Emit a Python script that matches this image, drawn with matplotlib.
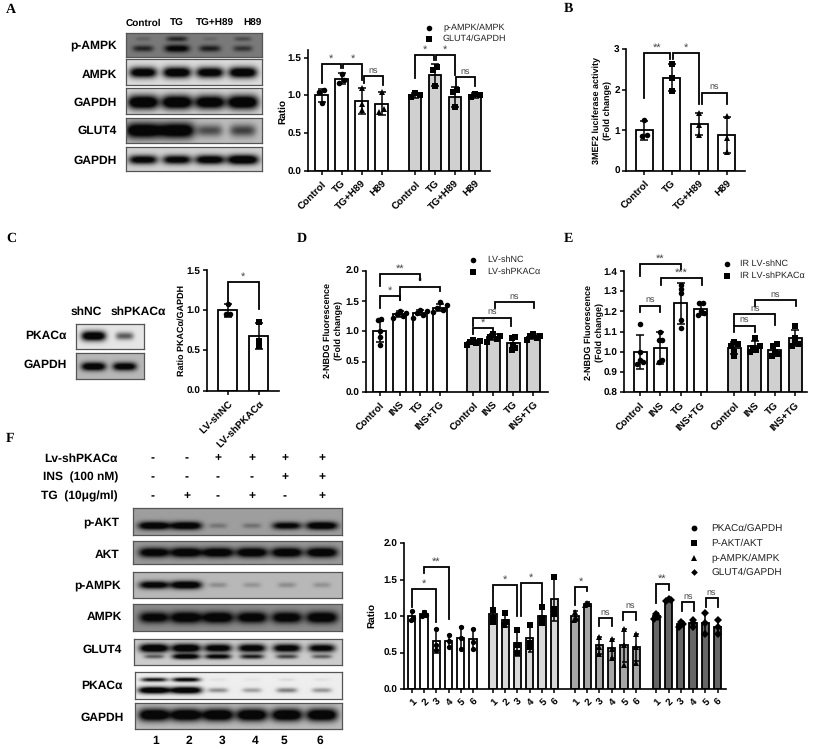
import numpy as np
import matplotlib
matplotlib.use("Agg")
import matplotlib.pyplot as plt

plt.rcParams["font.family"] = ["Liberation Sans", "DejaVu Sans"]
plt.rcParams["text.hinting"] = "no_hinting"
plt.rcParams["text.hinting_factor"] = 1

W, H = 815, 749

# ---- panel A chart
A_LABELS = ["Control", "TG", "TG+H89", "H89"] * 2
A_MEANS = [1.0, 1.22, 0.93, 0.89, 1.0, 1.27, 0.98, 1.0]
A_ERRS = [0.09, 0.07, 0.17, 0.15, 0.03, 0.14, 0.13, 0.03]
A_POINTS = [[1.07, 1.05, 0.9], [1.28, 1.2, 1.16], [1.1, 0.88, 0.81], [1.05, 0.82, 0.78],
            [1.03, 1.0, 0.98], [1.37, 1.33, 1.12], [1.07, 1.05, 0.85], [1.02, 1.0, 0.98]]
A_BRACKETS = [(0, 0.97, 1.41, 1.17, 1.36, "*"), (1.05, 2.03, 1.41, 1.36, 1.2, "*"),
              (2.1, 3.05, 1.25, 1.16, 1.14, "ns"), (4.67, 5.63, 1.53, 1.23, 1.47, "*"),
              (5.7, 6.67, 1.53, 1.47, 1.27, "*"), (6.7, 7.67, 1.24, 1.13, 1.13, "ns")]

# ---- panel B chart
B_LABELS = ["Control", "TG", "TG+H89", "H89"]
B_MEANS = [1.0, 2.3, 1.15, 0.88]
B_ERRS = [0.24, 0.34, 0.28, 0.45]
B_POINTS = [[1.25, 0.87, 0.85], [2.63, 2.3, 1.97], [1.43, 1.13, 0.87], [1.35, 0.82, 0.47]]
B_BRACKETS = [(0, 0.93, 2.91, 1.79, 2.75, "**"), (1.04, 2, 2.91, 2.75, 1.66, "*"),
              (2.08, 3, 1.93, 1.66, 1.66, "ns")]

# ---- panel C chart
C_LABELS = ["LV-shNC", "LV-shPKACα"]
C_MEANS = [1.0, 0.68]
C_ERRS = [0.08, 0.16]
C_POINTS = [[1.08, 0.95, 0.95], [0.85, 0.62, 0.56]]
C_BRACKETS = [(0, 1, 1.35, 1.07, 1.02, "*")]

# ---- panel D chart
D_LABELS = ["Control", "INS", "TG", "INS+TG"] * 2
D_MEANS = [1.0, 1.28, 1.31, 1.39, 0.82, 0.9, 0.81, 0.91]
D_ERRS = [0.17, 0.05, 0.04, 0.06, 0.03, 0.05, 0.09, 0.04]
D_POINTS = [[1.2, 1.18, 1.0, 0.9, 0.77], [1.34, 1.3, 1.28, 1.25, 1.22],
            [1.35, 1.33, 1.3, 1.27, 1.22], [1.48, 1.43, 1.38, 1.35, 1.32],
            [0.85, 0.84, 0.82, 0.8, 0.78], [0.96, 0.93, 0.9, 0.87, 0.83],
            [0.9, 0.89, 0.78, 0.72, 0.69], [0.95, 0.93, 0.92, 0.89, 0.86]]
D_BRACKETS = [(0, 2, 1.94, 1.75, 1.85, "**"), (0, 1, 1.58, 1.39, 1.52, "*"),
              (1, 3, 1.73, 1.52, 1.66, "*"), (4.65, 5.65, 1.05, 0.95, 0.98, "*"),
              (4.65, 6.55, 1.22, 1.08, 1.08, "ns"), (5.72, 7.7, 1.48, 1.38, 1.38, "ns")]

# ---- panel E chart
E_LABELS = ["Control", "INS", "TG", "INS+TG"] * 2
E_MEANS = [1.0, 1.02, 1.24, 1.21, 1.02, 1.03, 1.01, 1.07]
E_ERRS = [0.085, 0.08, 0.1, 0.03, 0.03, 0.025, 0.03, 0.04]
E_POINTS = [[1.14, 1.0, 0.96, 0.95, 0.94], [1.1, 1.06, 1.06, 0.96, 0.95],
            [1.33, 1.31, 1.29, 1.16, 1.12], [1.24, 1.24, 1.2, 1.19, 1.18],
            [1.05, 1.04, 1.03, 1.0, 0.98], [1.07, 1.03, 1.02, 1.01, 1.0],
            [1.04, 1.03, 1.0, 0.99, 0.98], [1.13, 1.07, 1.05, 1.04, 1.03]]
E_BRACKETS = [(0, 2, 1.435, 1.375, 1.41, "**"), (1.05, 3.03, 1.367, 1.33, 1.33, "***"),
              (0, 1, 1.227, 1.195, 1.195, "ns"), (4.65, 5.65, 1.13, 1.1, 1.1, "ns"),
              (4.65, 6.65, 1.186, 1.135, 1.135, "ns"), (5.65, 7.7, 1.255, 1.227, 1.227, "ns")]

# ---- panel F chart
F_LABELS = ["1", "2", "3", "4", "5", "6"] * 4
F_MEANS = [1.0, 1.03, 0.66, 0.66, 0.7, 0.68,
           1.03, 0.95, 0.63, 0.7, 1.0, 1.23,
           1.0, 1.17, 0.6, 0.56, 0.6, 0.57,
           1.0, 1.22, 0.89, 0.9, 0.9, 0.85]
F_ERRS = [0.06, 0.04, 0.17, 0.08, 0.15, 0.15,
          0.06, 0.1, 0.18, 0.19, 0.12, 0.3,
          0.07, 0.02, 0.12, 0.13, 0.23, 0.19,
          0.04, 0.01, 0.03, 0.05, 0.14, 0.1]
F_POINTS = [[1.07, 0.98, 0.95], [1.06, 1.02, 1.0], [0.83, 0.6, 0.53], [0.74, 0.66, 0.58],
            [0.85, 0.7, 0.55], [0.83, 0.65, 0.55],
            [1.09, 0.98, 0.92], [1.05, 0.92, 0.88], [0.81, 0.6, 0.5], [0.88, 0.63, 0.58],
            [1.12, 0.97, 0.9], [1.54, 1.1, 1.03],
            [1.06, 0.98, 0.95], [1.18, 1.17, 1.15], [0.72, 0.58, 0.48], [0.68, 0.55, 0.43],
            [0.83, 0.6, 0.33], [0.76, 0.58, 0.36],
            [1.03, 0.99, 0.96], [1.23, 1.22, 1.21], [0.92, 0.89, 0.85], [0.95, 0.9, 0.85],
            [1.04, 0.9, 0.76], [0.95, 0.85, 0.75]]
F_BRACKETS = [(0, 2, 1.37, 1.13, 0.92, "*"), (1, 3, 1.68, 1.59, 0.96, "**"),
              (6.62, 8.62, 1.43, 1.13, 1.0, "*"), (8.9, 10.62, 1.46, 1.0, 1.13, "*"),
              (13.3, 14.3, 1.4, 1.15, 1.34, "*"), (15.3, 16.3, 0.97, 0.86, 0.86, "ns"),
              (17.25, 18.3, 1.06, 0.95, 0.95, "ns"), (19.93, 20.93, 1.44, 1.18, 1.36, "**"),
              (22.0, 23.0, 1.19, 1.07, 1.07, "ns"), (23.95, 24.93, 1.245, 1.12, 1.12, "ns")]

# ---- blot band strengths, one value per lane
BLOT_A_PAMPK_LOW = [0.55, 0.85, 0.6, 0.45]
BLOT_A_PAMPK_HIGH = [0.15, 0.55, 0.12, 0.3]
BLOT_A_AMPK = [0.9, 0.95, 0.9, 0.95]
BLOT_A_GAPDH = [1.0, 1.0, 0.95, 1.0]
BLOT_A_GLUT4 = [1.0, 1.0, 0.45, 0.5]
BLOT_A_GAPDH2 = [0.85, 0.85, 0.9, 1.0]
BLOT_C_PKAC = [0.95, 0.45]
BLOT_C_GAPDH = [0.95, 0.9]
BLOT_F_PAKT = [1.0, 1.0, 0.2, 0.22, 0.85, 1.0]
BLOT_F_AKT = [0.95, 1.0, 1.0, 1.0, 1.0, 1.0]
BLOT_F_PAMPK = [0.9, 1.0, 0.18, 0.15, 0.18, 0.16]
BLOT_F_AMPK = [0.9, 1.0, 1.0, 0.95, 0.95, 1.0]
BLOT_F_GLUT4_TOP = [1.0, 1.0, 0.9, 0.9, 0.9, 0.85]
BLOT_F_GLUT4_LOW = [0.4, 0.9, 0.8, 0.65, 0.5, 0.4]
BLOT_F_PKAC_TOP = [0.7, 0.8, 0.04, 0.03, 0.06, 0.04]
BLOT_F_PKAC_LOW = [1.0, 1.0, 0.3, 0.25, 0.35, 0.28]
BLOT_F_GAPDH = [1.0, 1.0, 1.0, 1.0, 1.0, 1.0]

SIGN_LV = ["-", "-", "+", "+", "+", "+"]
SIGN_INS = ["-", "-", "-", "-", "+", "+"]
SIGN_TG = ["-", "+", "-", "+", "-", "+"]

# side-by-side slots for points that would overlap
SLOTS = {1: [0], 2: [-0.5, 0.5], 3: [-1, 1, 0], 4: [-1.5, 0.5, -0.5, 1.5], 5: [-2, 1, -1, 2, 0]}

fig = plt.figure(figsize=(W / 100, H / 100), dpi=100, facecolor="white")


def px_axes(left, right, top, bottom, **kw):
    return fig.add_axes([left / W, 1 - bottom / H, (right - left) / W, (bottom - top) / H], **kw)


def label(x, y, s, ha="center", size=7, weight="bold", **kw):
    fig.text(x / W, 1 - y / H, s, ha=ha, va="center", fontsize=size, fontweight=weight, **kw)


def legend_row(x, y, marker, text, text_x, size, ms=4.0):
    fig.add_artist(plt.Line2D([x / W], [1 - y / H], marker=marker, color="black", ms=ms, mew=0))
    label(text_x, y, text, ha="left", weight="normal", size=size, color="#222222")


def swarm(vals, thr, step):
    order = np.argsort(vals)
    out = np.zeros(len(vals))
    clusters = [[order[0]]]
    for i in order[1:]:
        if vals[i] - vals[clusters[-1][-1]] < thr:
            clusters[-1].append(i)
        else:
            clusters.append([i])
    for c in clusters:
        for slot, i in zip(SLOTS[len(c)], c):
            out[i] = slot * step
    return out


def bar_chart(box, first, spacing, bar_w, ylim, yticks, xpos, names, means, errs, points,
              fills, markers, brackets, fmt="%.1f", cap=3.0, ms=4.0, tick_size=7.2,
              label_size=7.0, step_px=4.5):
    left, right, top, bottom = box
    ax = px_axes(left, right, top, bottom)
    ax.set_xlim((left - first) / spacing, (right - first) / spacing)
    ax.set_ylim(*ylim)
    ax.patch.set_alpha(0)
    ax.bar(xpos, np.array(means) - ylim[0], bottom=ylim[0], width=bar_w / spacing, color=fills,
           edgecolor="black", linewidth=1.3, zorder=2)
    ax.errorbar(xpos, means, yerr=errs, fmt="none", ecolor="black", elinewidth=1.1,
                capsize=cap, capthick=1.1, zorder=3)
    y_scale = (bottom - top) / (ylim[1] - ylim[0])
    for x, vals, m in zip(xpos, points, markers):
        dxs = swarm(vals, 3.6 / y_scale, step_px / spacing)
        ax.plot(x + dxs, vals, m, color="black", ms=ms, mew=0, zorder=4, clip_on=False)
    for x1, x2, y_top, y1, y2, s in brackets:
        ax.plot([x1, x1, x2, x2], [y1, y_top, y_top, y2], color="black", lw=1.3,
                solid_joinstyle="miter", clip_on=False, zorder=5)
        dy = (0.0 if s != "ns" else 6) / y_scale
        ax.text((x1 + x2) / 2, y_top + dy, s, ha="center", va="center" if s == "ns" else "bottom",
                fontsize=6.8 if s == "ns" else 8, color="#444444", clip_on=False)
    ax.set_xticks(xpos)
    ax.set_xticklabels(names, rotation=45, ha="right", rotation_mode="anchor",
                       fontsize=label_size, fontweight="bold")
    ax.set_yticks(yticks)
    ax.set_yticklabels([fmt % t for t in yticks], fontsize=tick_size, fontweight="bold")
    ax.tick_params(length=3, width=1.1, pad=1.5)
    ax.tick_params(axis="x", pad=3)
    for s in ["top", "right"]:
        ax.spines[s].set_visible(False)
    for s in ["left", "bottom"]:
        ax.spines[s].set_linewidth(1.2)
    return ax


def blot(box, lanes, rows, bg, lane_w):
    left, right, top, bottom = box
    ax = px_axes(left, right, top, bottom)
    nx, ny = int((right - left) * 2), int((bottom - top) * 2)
    X, Y = np.meshgrid(np.linspace(left, right, nx), np.linspace(0, 1, ny))
    dark = np.zeros_like(X)
    for yc, thick, strengths in rows:
        for lane, s in zip(lanes, strengths):
            w = lane_w * (0.5 + 0.55 * s)
            h = thick * (0.55 + 0.45 * s)
            dark += s * np.exp(-((X - lane) / w) ** 4) * np.exp(-((Y - yc) / h) ** 2)
    dark = np.clip(1.4 * dark, 0, 1)
    ax.imshow(bg * (1 - dark) + 0.03 * dark, cmap="gray", vmin=0, vmax=1, aspect="auto",
              interpolation="bilinear")
    ax.set_xticks([])
    ax.set_yticks([])
    for s in ax.spines.values():
        s.set_color("#555555")
        s.set_linewidth(0.9)


GR = "#d0d0d0"

# ---- panel A
LANES_A = [143, 177, 210, 243]
blot((126, 262, 33, 57), LANES_A, [(0.65, 0.17, BLOT_A_PAMPK_LOW), (0.24, 0.14, BLOT_A_PAMPK_HIGH)], 0.48, 13)
blot((126, 262, 59, 85), LANES_A, [(0.52, 0.22, BLOT_A_AMPK)], 0.86, 14)
blot((126, 262, 88, 114), LANES_A, [(0.55, 0.28, BLOT_A_GAPDH)], 0.84, 15)
blot((126, 262, 118, 143), LANES_A, [(0.5, 0.32, BLOT_A_GLUT4)], 0.74, 17)
blot((126, 262, 147, 171), LANES_A, [(0.55, 0.2, BLOT_A_GAPDH2)], 0.82, 15)
for x, s in zip([143, 177, 215, 252], B_LABELS):
    label(x, 23, s, size=7.5)
for y, s in zip([45, 75, 103, 131, 161], ["p-AMPK", "AMPK", "GAPDH", "GLUT4", "GAPDH"]):
    label(117, y, s, ha="right", size=8.5)

bar_chart((308, 490, 50, 171), 321.7, 20, 12.7, (0, 1.6), [0, 0.5, 1.0, 1.5],
          [0, 1, 2, 3, 4.67, 5.67, 6.67, 7.67], A_LABELS, A_MEANS, A_ERRS, A_POINTS,
          ["white"] * 4 + [GR] * 4, ["o", "o", "^", "^", "s", "s", "s", "s"], A_BRACKETS)
label(283, 112, "Ratio", rotation=90)
legend_row(429, 28, "o", "p-AMPK/AMPK", 443, 6.5)
legend_row(429, 39, "s", "GLUT4/GAPDH", 443, 6.5)

# ---- panel B
bar_chart((626, 745, 49.3, 170.7), 644.3, 27.5, 16.7, (0, 3), [0, 1, 2, 3],
          [0, 1, 2, 3], B_LABELS, B_MEANS, B_ERRS, B_POINTS, ["white"] * 4,
          ["o", "s", "^", "^"], B_BRACKETS, fmt="%d")
label(602, 110, "3MEF2 luciferase activity\n(Fold change)", size=6.5, rotation=90,
      multialignment="center", linespacing=1.4)

# ---- panel C
LANES_C = [93, 124]
blot((75.7, 144, 324, 349.3), LANES_C, [(0.5, 0.2, BLOT_C_PKAC)], 0.9, 12)
blot((75.7, 144, 353, 379), LANES_C, [(0.52, 0.17, BLOT_C_GAPDH)], 0.72, 12)
label(86, 312, "shNC", size=8.5)
label(138, 312, "shPKACα", size=8.5)
label(67, 336, "PKACα", ha="right", size=8.5)
label(67, 365, "GAPDH", ha="right", size=8.5)
bar_chart((207, 279, 270, 390.7), 228, 30.7, 19, (0, 1.5), [0, 0.5, 1.0, 1.5],
          [0, 1], C_LABELS, C_MEANS, C_ERRS, C_POINTS, ["white"] * 2, ["o", "s"], C_BRACKETS)
label(181, 330, "Ratio PKACα/GAPDH", size=6.5, rotation=90)

# ---- panel D
bar_chart((365.7, 548, 270.7, 392), 379.7, 20.1, 13.3, (0, 2.0), [0, 0.5, 1.0, 1.5, 2.0],
          [0, 1, 2, 3, 4.65, 5.65, 6.65, 7.65], D_LABELS, D_MEANS, D_ERRS, D_POINTS,
          ["white"] * 4 + [GR] * 4, ["o"] * 4 + ["s"] * 4, D_BRACKETS, step_px=3.3)
label(333, 331, "2-NBDG Fluorescence\n(Fold change)", size=6.5, rotation=90,
      multialignment="center", linespacing=1.4)
legend_row(473, 260, "o", "LV-shNC", 487, 6.4)
legend_row(473, 272, "s", "LV-shPKACα", 487, 6.4)

# ---- panel E
bar_chart((624, 806.7, 271, 392.3), 640, 20.3, 13, (0.8, 1.4), [0.8, 0.9, 1.0, 1.1, 1.2, 1.3, 1.4],
          [0, 1, 2, 3, 4.65, 5.65, 6.65, 7.65], E_LABELS, E_MEANS, E_ERRS, E_POINTS,
          ["white"] * 4 + [GR] * 4, ["o"] * 4 + ["s"] * 4, E_BRACKETS, step_px=3.3)
label(594, 332, "2-NBDG Fluorescence\n(Fold change)", size=6.5, rotation=90,
      multialignment="center", linespacing=1.4)
legend_row(727, 264, "o", "IR LV-shNC", 740, 6.4)
legend_row(727, 276, "s", "IR LV-shPKACα", 740, 6.4)

# ---- panel F
LANES_F = [154, 186, 218, 252, 287, 322]
blot((133, 342, 508, 535), LANES_F, [(0.66, 0.15, BLOT_F_PAKT)], 0.62, 15)
blot((133, 342, 541, 564), LANES_F, [(0.5, 0.22, BLOT_F_AKT)], 0.6, 15)
blot((133, 342, 572, 598), LANES_F, [(0.5, 0.16, BLOT_F_PAMPK)], 0.72, 15)
blot((133, 342, 604, 631), LANES_F, [(0.5, 0.22, BLOT_F_AMPK)], 0.55, 15)
blot((134, 342, 639, 665), LANES_F, [(0.35, 0.17, BLOT_F_GLUT4_TOP), (0.68, 0.11, BLOT_F_GLUT4_LOW)], 0.8, 14)
blot((135, 342, 672, 699), LANES_F, [(0.28, 0.09, BLOT_F_PKAC_TOP), (0.68, 0.13, BLOT_F_PKAC_LOW)], 0.93, 15)
blot((135, 342, 703, 729), LANES_F, [(0.48, 0.24, BLOT_F_GAPDH)], 0.74, 15)
for y, s, x in zip([522, 555, 585, 617, 650, 686, 718],
                   ["p-AKT", "AKT", "p-AMPK", "AMPK", "GLUT4", "PKACα", "GAPDH"],
                   [119, 119, 121, 122, 122, 123, 124]):
    label(x, y, s, ha="right", size=8.5)
for x, s in zip([156, 189, 222, 255, 284, 320], ["1", "2", "3", "4", "5", "6"]):
    label(x, 741, s, size=8.5)
for y, row, s in zip([458.3, 477.3, 496.3], [SIGN_LV, SIGN_INS, SIGN_TG],
                     ["Lv-shPKACα", "INS  (100 nM)", "TG  (10μg/ml)"]):
    label(118, y, s, ha="right", size=8.5)
    for x, sign in zip([152.7, 187, 218, 252, 285, 322], row):
        label(x, y, sign, size=8.5)

F_X = [g + i for g in [0, 6.62, 13.3, 19.93] for i in range(6)]
bar_chart((404, 725.7, 543.3, 689), 411.7, 12.27, 7.3, (0, 2.0), [0, 0.5, 1.0, 1.5, 2.0],
          F_X, F_LABELS, F_MEANS, F_ERRS, F_POINTS,
          ["white"] * 6 + ["#d9d9d9"] * 6 + ["#a6a6a6"] * 6 + ["#666666"] * 6,
          ["o"] * 6 + ["s"] * 6 + ["^"] * 6 + ["D"] * 6, F_BRACKETS, cap=1.8, ms=3.8,
          tick_size=7.5, label_size=7.5, step_px=2.2)
label(372, 616, "Ratio", rotation=90, size=7.5)
for y, m, s in zip([528, 543, 558, 572], ["o", "s", "^", "D"],
                   ["PKACα/GAPDH", "P-AKT/AKT", "p-AMPK/AMPK", "GLUT4/GAPDH"]):
    legend_row(694, y, m, s, 711, 7.4, ms=3.4 if m == "D" else 4.2)

# ---- panel letters
for x, y, s in [(11, 10, "A"), (568, 9, "B"), (11, 238, "C"), (302, 239, "D"), (568, 239, "E"), (10, 439, "F")]:
    label(x, y, s, size=10, family="Liberation Serif")

fig.savefig("out.png", dpi=100)
